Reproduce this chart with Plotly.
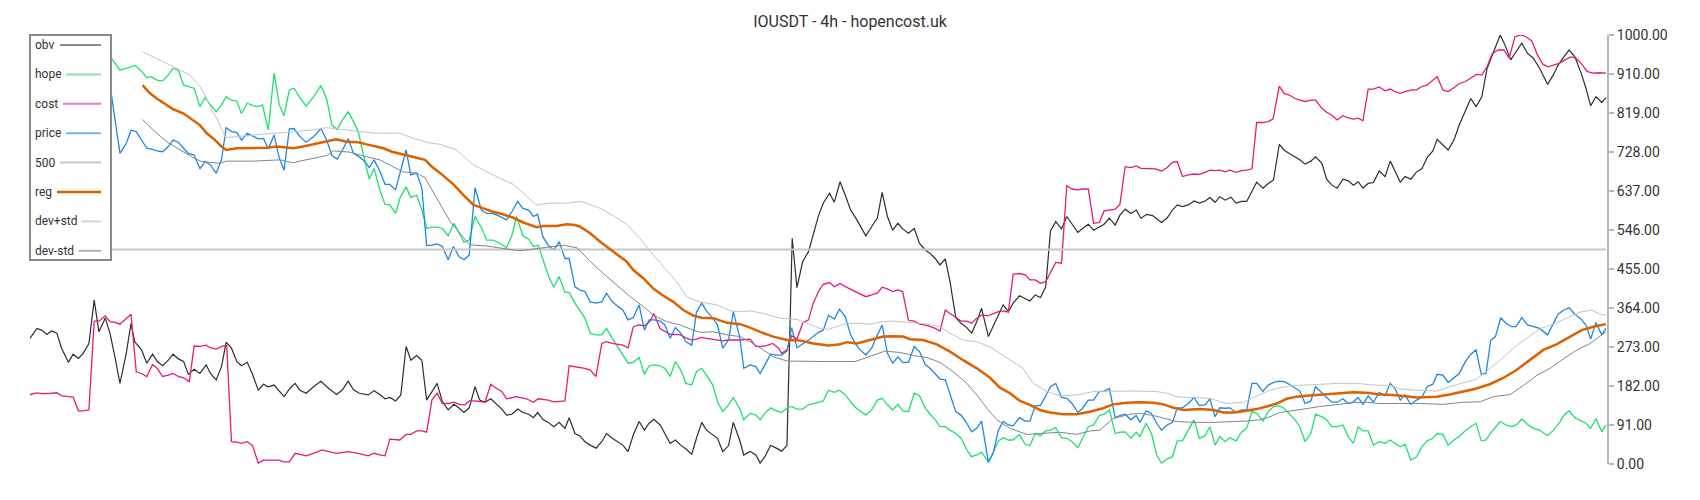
import plotly.graph_objects as go

# (candle, value) pairs; values are on the chart's 0-1000 scale
obv = [
    (0.0, 293), (1.3, 316), (2.2, 312), (3.2, 302), (4.1, 310), (5.1, 305), (6.0, 270), (7.3, 237), (8.2, 256),
    (9.2, 246), (10.1, 258), (11.2, 281), (12.2, 382), (13.1, 308), (14.3, 340), (15.2, 305), (16.2, 246),
    (17.1, 188), (18.3, 258), (19.2, 328), (19.9, 285), (21.2, 266), (22.2, 235), (23.3, 256), (24.2, 239),
    (25.2, 229), (26.3, 242), (27.2, 256), (28.2, 245), (29.2, 239), (30.1, 209), (31.2, 221), (32.3, 211),
    (33.5, 231), (34.3, 211), (35.4, 196), (36.4, 227), (37.3, 284), (38.3, 270), (39.3, 239), (40.2, 229),
    (41.3, 237), (42.3, 209), (43.4, 172), (44.4, 186), (45.3, 180), (46.4, 184), (47.4, 169), (48.3, 157),
    (49.4, 176), (50.4, 188), (51.3, 172), (52.5, 165), (53.9, 180), (55.3, 193), (56.8, 176), (58.3, 162),
    (59.4, 173), (60.5, 193), (61.5, 173), (62.6, 165), (64.3, 161), (65.4, 171), (66.5, 162), (67.5, 152),
    (68.4, 155), (69.5, 147), (70.5, 161), (71.5, 274), (72.4, 242), (73.5, 253), (74.5, 242), (75.4, 149),
    (77.4, 188), (78.4, 145), (79.5, 126), (80.6, 139), (81.6, 130), (82.5, 120), (83.5, 131), (84.6, 180),
    (85.5, 149), (86.5, 144), (87.6, 152), (88.7, 139), (89.7, 128), (90.6, 114), (91.6, 116), (92.7, 128),
    (93.7, 120), (94.8, 116), (95.7, 108), (96.5, 120), (97.6, 103), (98.5, 97), (99.6, 87), (100.6, 97),
    (101.7, 83), (102.5, 108), (103.6, 71), (104.5, 66), (105.5, 52), (106.5, 44), (107.6, 37), (108.7, 52),
    (109.6, 71), (110.7, 60), (111.7, 52), (112.7, 44), (113.7, 29), (114.7, 68), (115.8, 99), (116.8, 79),
    (117.7, 95), (118.6, 104), (119.8, 91), (120.7, 71), (121.7, 48), (122.7, 56), (123.7, 44), (124.7, 35),
    (125.8, 23), (126.7, 60), (127.7, 97), (128.6, 79), (129.8, 69), (130.7, 60), (131.7, 29), (132.8, 43),
    (133.7, 97), (134.9, 56), (135.7, 21), (136.9, 29), (138.0, 21), (138.8, 2), (139.7, 17), (140.8, 43),
    (141.9, 37), (142.9, 30), (143.9, 43), (144.9, 526), (145.8, 411), (146.9, 472), (148.0, 495), (148.9, 534),
    (149.9, 579), (150.8, 608), (152.0, 631), (152.9, 610), (154.0, 658), (155.1, 623), (156.0, 592), (157.0, 573),
    (158.9, 532), (160.0, 553), (161.1, 574), (162.0, 633), (163.0, 577), (164.0, 545), (165.0, 561), (165.9, 548),
    (167.0, 538), (168.1, 549), (169.1, 514), (170.2, 499), (171.1, 491), (172.1, 479), (173.0, 464), (174.0, 478),
    (174.9, 425), (176.0, 341), (177.0, 328), (178.1, 318), (179.0, 305), (180.0, 332), (180.9, 363), (182.2, 297),
    (183.1, 320), (184.1, 347), (185.0, 371), (186.0, 355), (186.9, 375), (188.1, 392), (189.2, 386), (190.1, 380),
    (191.1, 394), (192.1, 388), (193.1, 413), (194.0, 543), (195.0, 565), (196.1, 548), (197.1, 577), (198.1, 559),
    (199.2, 540), (200.1, 549), (201.2, 559), (202.2, 545), (203.3, 553), (204.2, 559), (205.2, 573), (206.3, 557),
    (207.2, 580), (208.2, 594), (209.3, 584), (210.3, 592), (211.2, 573), (212.3, 582), (213.4, 579), (215.1, 563),
    (216.2, 574), (217.2, 592), (218.1, 604), (219.1, 600), (220.2, 604), (221.3, 613), (222.3, 608), (223.4, 613),
    (224.3, 621), (225.3, 610), (226.2, 623), (227.2, 615), (228.3, 622), (229.3, 608), (230.3, 612), (231.3, 612),
    (233.2, 657), (234.4, 643), (235.4, 654), (236.4, 662), (237.5, 745), (238.4, 732), (239.4, 724), (240.5, 716),
    (241.4, 709), (242.4, 699), (243.5, 706), (244.4, 716), (245.6, 701), (246.5, 664), (247.5, 650), (248.5, 643),
    (249.6, 664), (250.6, 660), (251.6, 650), (252.5, 658), (253.4, 643), (254.4, 654), (255.4, 656), (256.5, 683),
    (257.6, 670), (258.6, 706), (259.5, 681), (260.5, 657), (261.4, 670), (262.5, 664), (263.6, 681), (264.6, 688),
    (265.7, 716), (266.7, 730), (267.5, 757), (268.6, 744), (269.6, 732), (270.7, 755), (271.7, 790), (272.8, 821),
    (273.9, 852), (274.9, 833), (276.0, 856), (277.0, 922), (278.0, 955), (279.5, 1000), (280.4, 977), (281.5, 942),
    (282.5, 961), (283.6, 981), (284.7, 957), (285.8, 946), (287.0, 922), (288.5, 885), (289.6, 907), (290.5, 930),
    (291.6, 949), (292.6, 965), (293.7, 949), (295.0, 907), (295.8, 876), (296.7, 835), (297.7, 856), (298.8, 843),
    (299.6, 854),
]

hope = [
    (15.3, 949), (17.1, 918), (18.3, 922), (20.0, 929), (21.0, 918), (22.2, 901), (23.1, 903), (24.1, 895),
    (25.2, 893), (26.3, 907), (27.2, 922), (28.2, 918), (29.2, 883), (30.1, 880), (31.2, 876), (32.3, 833),
    (33.3, 854), (34.3, 837), (35.4, 821), (36.4, 837), (37.3, 856), (38.3, 848), (39.3, 846), (40.2, 817),
    (41.3, 841), (42.5, 835), (43.4, 833), (44.2, 837), (45.3, 779), (46.4, 911), (47.4, 837), (48.3, 812),
    (49.3, 872), (50.2, 876), (51.3, 854), (52.5, 834), (53.9, 856), (55.3, 882), (56.4, 851), (57.4, 790),
    (58.4, 779), (59.4, 802), (60.5, 821), (61.5, 798), (62.4, 775), (63.4, 720), (64.5, 664), (65.4, 689),
    (66.5, 639), (67.5, 605), (68.4, 604), (69.5, 584), (70.3, 619), (71.5, 646), (72.4, 621), (73.5, 627),
    (74.5, 592), (75.4, 549), (76.4, 552), (77.4, 552), (78.4, 549), (79.5, 532), (80.6, 561), (81.6, 538),
    (82.5, 517), (83.5, 522), (84.6, 577), (85.9, 549), (86.8, 522), (87.9, 522), (89.0, 517), (90.6, 504),
    (91.6, 532), (92.5, 577), (93.7, 532), (94.8, 524), (95.7, 507), (96.6, 510), (97.6, 476), (98.6, 437),
    (99.6, 412), (100.6, 437), (101.7, 400), (102.5, 400), (103.6, 375), (104.5, 357), (105.5, 340), (106.5, 305),
    (107.6, 301), (108.7, 301), (109.6, 316), (110.7, 293), (111.7, 274), (112.7, 254), (113.7, 235), (114.7, 237),
    (115.8, 248), (116.8, 209), (117.7, 229), (118.6, 231), (119.8, 229), (120.7, 223), (121.7, 204), (122.7, 239),
    (123.7, 219), (124.7, 188), (125.8, 184), (126.7, 215), (127.7, 223), (128.6, 207), (129.8, 184), (130.7, 145),
    (131.7, 122), (132.8, 138), (133.7, 155), (134.9, 130), (135.7, 103), (136.9, 118), (138.0, 114), (138.8, 103),
    (139.7, 118), (140.8, 131), (141.9, 124), (142.9, 120), (143.9, 130), (144.8, 134), (145.8, 128), (146.9, 128),
    (148.0, 138), (148.9, 141), (149.9, 144), (150.8, 147), (151.8, 172), (152.9, 167), (153.9, 172), (155.0, 161),
    (156.0, 145), (157.0, 131), (158.9, 114), (160.0, 126), (161.1, 149), (162.0, 153), (163.0, 138), (164.0, 126),
    (165.0, 139), (165.9, 124), (167.0, 122), (168.1, 165), (169.1, 159), (170.2, 131), (171.1, 116), (172.1, 103),
    (173.0, 87), (174.0, 87), (174.9, 79), (176.0, 71), (177.0, 60), (178.1, 33), (179.0, 17), (180.0, 21),
    (180.9, 27), (182.2, 5), (183.1, 27), (184.1, 54), (185.0, 61), (186.0, 56), (186.9, 56), (188.1, 69),
    (189.2, 46), (190.1, 43), (191.1, 71), (192.1, 66), (193.1, 77), (194.0, 79), (195.0, 85), (196.1, 61),
    (197.1, 60), (198.1, 52), (199.2, 38), (200.1, 61), (201.2, 87), (202.2, 91), (203.3, 113), (204.2, 116),
    (205.2, 126), (206.3, 71), (207.2, 74), (208.2, 75), (209.3, 60), (210.3, 74), (211.0, 64), (212.2, 95),
    (213.2, 71), (214.2, 21), (215.1, 2), (216.2, 12), (217.2, 17), (218.1, 54), (219.1, 54), (220.2, 79),
    (221.3, 103), (222.3, 60), (223.4, 66), (224.3, 87), (225.3, 44), (226.2, 64), (227.2, 52), (228.1, 61),
    (229.3, 54), (230.3, 74), (231.3, 83), (232.3, 122), (233.2, 118), (234.4, 100), (235.4, 122), (236.4, 134),
    (237.5, 136), (238.4, 130), (239.4, 118), (240.5, 103), (241.4, 87), (242.4, 52), (243.5, 71), (244.4, 116),
    (245.6, 110), (246.5, 103), (247.5, 87), (248.5, 87), (249.6, 91), (250.6, 64), (251.6, 48), (252.5, 87),
    (253.4, 77), (254.4, 77), (255.4, 44), (256.5, 52), (257.6, 48), (258.6, 56), (259.5, 48), (260.5, 40),
    (261.4, 46), (262.5, 9), (263.6, 17), (264.6, 40), (265.6, 54), (266.7, 60), (267.5, 71), (268.6, 69),
    (269.6, 44), (270.7, 56), (271.7, 64), (272.8, 77), (273.9, 87), (274.9, 95), (275.9, 54), (276.8, 56),
    (278.0, 77), (279.5, 99), (280.6, 91), (281.7, 87), (282.6, 91), (283.6, 105), (284.7, 92), (285.8, 83),
    (287.0, 79), (288.5, 66), (289.6, 79), (290.8, 97), (291.6, 113), (292.6, 124), (293.7, 108), (295.0, 100),
    (295.8, 95), (296.7, 83), (297.7, 106), (298.8, 75), (299.6, 91),
]

cost = [
    (0.0, 162), (1.3, 166), (2.2, 164), (3.2, 164), (5.1, 166), (6.0, 159), (7.3, 157), (8.2, 156), (9.2, 124),
    (10.1, 124), (11.2, 126), (12.2, 333), (13.1, 333), (14.3, 345), (15.2, 332), (16.2, 330), (17.1, 326),
    (18.3, 340), (19.2, 349), (20.2, 215), (21.2, 211), (22.2, 204), (23.3, 232), (24.2, 223), (25.2, 204),
    (26.3, 207), (27.2, 211), (28.2, 204), (29.2, 201), (30.3, 192), (31.2, 275), (32.3, 274), (33.5, 277),
    (34.3, 271), (35.4, 268), (36.4, 274), (37.4, 276), (38.3, 52), (39.3, 51), (40.2, 48), (41.3, 52),
    (42.3, 43), (43.4, 2), (44.4, 9), (46.3, 9), (47.4, 9), (48.2, 5), (49.3, 5), (50.4, 25), (51.3, 23),
    (52.5, 19), (53.9, 25), (55.5, 33), (56.8, 29), (58.3, 25), (60.5, 29), (62.4, 25), (64.3, 19), (65.4, 25),
    (66.5, 21), (67.5, 19), (68.4, 58), (70.3, 56), (71.5, 69), (72.4, 69), (73.5, 77), (74.5, 77), (75.4, 74),
    (76.4, 149), (77.4, 165), (78.4, 141), (79.5, 141), (80.6, 144), (81.6, 139), (82.7, 138), (83.5, 147),
    (84.6, 147), (86.5, 144), (87.6, 186), (88.7, 176), (89.7, 169), (90.6, 152), (92.5, 157), (94.4, 152),
    (95.7, 144), (96.6, 152), (98.5, 149), (99.6, 145), (101.7, 147), (102.5, 229), (103.6, 227), (104.6, 225),
    (105.5, 223), (106.5, 219), (107.6, 204), (108.7, 281), (109.6, 285), (110.7, 281), (111.7, 279), (112.7, 277),
    (113.7, 271), (114.7, 320), (115.8, 324), (116.8, 322), (117.9, 333), (118.6, 351), (119.8, 315), (120.7, 308),
    (121.7, 302), (122.7, 302), (123.7, 301), (124.7, 294), (125.8, 289), (126.7, 291), (127.7, 295), (128.6, 293),
    (129.8, 291), (130.7, 289), (131.7, 287), (132.8, 289), (134.9, 289), (136.9, 291), (138.0, 274), (139.1, 274),
    (140.0, 276), (141.2, 281), (142.3, 270), (142.9, 258), (143.9, 266), (144.8, 299), (145.8, 291), (146.9, 328),
    (148.0, 336), (148.9, 375), (149.9, 402), (150.8, 419), (152.0, 423), (152.9, 413), (154.0, 421), (155.1, 413),
    (156.0, 408), (157.0, 402), (158.9, 390), (160.0, 394), (161.1, 399), (162.0, 412), (163.0, 408), (164.0, 402),
    (165.0, 406), (165.9, 402), (167.0, 335), (168.1, 333), (169.1, 326), (170.2, 324), (171.1, 320), (172.1, 316),
    (173.0, 310), (174.0, 359), (174.9, 351), (176.0, 341), (177.0, 333), (178.1, 333), (179.0, 328), (180.0, 340),
    (180.9, 347), (182.2, 346), (183.1, 351), (184.1, 355), (185.0, 357), (186.0, 354), (186.9, 442), (188.1, 444),
    (189.2, 441), (190.1, 429), (191.1, 429), (192.1, 421), (193.1, 425), (194.0, 448), (195.0, 470), (196.1, 468),
    (197.1, 649), (198.1, 641), (199.2, 639), (200.1, 641), (201.2, 641), (202.2, 561), (203.3, 563), (204.2, 590),
    (205.2, 592), (206.3, 594), (207.2, 605), (208.2, 693), (209.3, 691), (210.3, 695), (211.2, 689), (212.3, 689),
    (213.9, 688), (215.1, 683), (216.2, 691), (217.2, 703), (218.1, 705), (219.1, 670), (220.2, 674), (221.3, 676),
    (222.3, 675), (223.4, 680), (224.3, 685), (225.3, 684), (226.2, 685), (227.2, 681), (228.1, 685), (229.3, 680),
    (230.3, 684), (231.3, 685), (232.3, 688), (233.2, 796), (234.4, 796), (235.4, 798), (236.3, 804), (237.5, 881),
    (238.4, 864), (239.4, 860), (240.5, 852), (241.4, 848), (242.4, 845), (243.5, 848), (244.4, 848), (245.6, 829),
    (246.5, 820), (247.5, 813), (248.5, 802), (249.6, 812), (250.6, 807), (251.6, 804), (252.5, 806), (253.4, 800),
    (254.4, 874), (255.4, 874), (256.5, 879), (257.6, 870), (258.6, 874), (259.5, 868), (260.5, 864), (261.4, 868),
    (262.7, 872), (263.6, 872), (264.6, 880), (265.6, 883), (266.7, 895), (267.5, 903), (268.6, 872), (269.6, 868),
    (270.7, 877), (271.7, 887), (272.8, 891), (273.9, 899), (275.0, 908), (276.0, 907), (277.0, 926), (278.0, 957),
    (279.1, 965), (280.2, 965), (281.2, 946), (282.3, 996), (283.4, 1000), (284.4, 996), (285.5, 986), (286.6, 953),
    (287.6, 932), (288.6, 926), (289.7, 930), (290.7, 934), (291.8, 942), (292.9, 949), (293.9, 946), (295.0, 932),
    (296.0, 915), (297.1, 911), (298.2, 912), (299.6, 911),
]

price = [
    (15.3, 876), (17.1, 724), (18.3, 747), (19.2, 778), (20.2, 775), (21.2, 755), (22.2, 736), (23.1, 734),
    (24.1, 730), (25.2, 728), (26.3, 740), (27.2, 755), (28.2, 750), (29.2, 736), (30.1, 724), (31.2, 720),
    (32.3, 688), (33.3, 705), (34.3, 697), (35.4, 678), (36.4, 709), (37.3, 784), (38.3, 775), (39.3, 773),
    (40.2, 755), (41.3, 771), (42.5, 763), (43.4, 758), (44.4, 759), (45.3, 734), (46.4, 767), (47.4, 713),
    (48.3, 685), (49.3, 781), (50.2, 782), (51.3, 763), (52.5, 750), (53.9, 763), (55.3, 782), (56.4, 755),
    (57.4, 719), (58.4, 711), (59.4, 732), (60.5, 758), (61.5, 724), (62.6, 716), (63.6, 706), (64.5, 691),
    (65.4, 709), (66.5, 683), (67.5, 652), (68.4, 652), (69.5, 639), (71.5, 732), (72.4, 674), (73.5, 678),
    (74.5, 643), (75.4, 509), (76.4, 510), (77.4, 513), (78.4, 507), (79.5, 476), (80.5, 507), (81.6, 483),
    (82.5, 476), (83.5, 487), (84.6, 644), (85.8, 592), (86.8, 584), (87.9, 584), (89.0, 579), (90.6, 569),
    (91.6, 588), (92.7, 612), (93.7, 596), (94.8, 592), (95.7, 577), (96.5, 582), (97.5, 530), (98.5, 510),
    (99.6, 499), (100.6, 518), (101.7, 479), (102.5, 479), (103.6, 413), (104.5, 406), (105.5, 402), (106.5, 378),
    (107.6, 375), (108.7, 378), (109.6, 398), (110.7, 378), (111.7, 368), (112.7, 359), (113.7, 336), (114.7, 341),
    (115.8, 371), (116.8, 312), (117.7, 336), (118.6, 336), (119.8, 333), (120.7, 324), (121.7, 293), (122.7, 318),
    (123.7, 305), (124.7, 285), (125.8, 277), (126.7, 354), (127.7, 375), (128.6, 357), (129.8, 340), (130.7, 324),
    (131.7, 270), (132.8, 289), (133.7, 355), (134.9, 297), (135.7, 223), (136.9, 231), (138.0, 227), (138.8, 211),
    (139.7, 231), (140.8, 256), (141.9, 254), (142.9, 254), (143.9, 263), (144.8, 318), (145.8, 271), (146.9, 281),
    (148.0, 289), (148.9, 297), (149.9, 307), (150.8, 312), (151.8, 347), (152.9, 338), (153.9, 361), (155.0, 343),
    (156.0, 301), (157.0, 279), (157.8, 266), (158.9, 254), (160.0, 270), (161.1, 301), (162.0, 324), (163.0, 258),
    (164.0, 235), (165.0, 250), (165.9, 237), (167.0, 237), (168.1, 274), (169.1, 262), (170.2, 232), (171.1, 223),
    (172.1, 211), (173.0, 198), (174.0, 196), (174.9, 165), (176.0, 122), (177.0, 114), (178.1, 95), (179.0, 75),
    (180.0, 83), (180.9, 100), (182.2, 4), (183.1, 25), (184.1, 79), (185.0, 99), (186.0, 91), (186.9, 89),
    (188.1, 108), (189.2, 100), (190.1, 100), (191.1, 136), (192.1, 136), (193.1, 159), (194.0, 180), (195.0, 188),
    (196.1, 155), (197.1, 153), (198.1, 141), (199.2, 120), (200.1, 130), (201.2, 149), (202.2, 149), (203.3, 169),
    (204.2, 170), (205.2, 176), (206.3, 108), (207.2, 113), (208.2, 116), (209.3, 103), (210.3, 113), (211.0, 97),
    (212.2, 124), (213.2, 118), (214.2, 95), (215.1, 79), (216.2, 91), (217.2, 97), (218.1, 131), (219.1, 131),
    (220.2, 141), (221.3, 155), (222.3, 136), (223.4, 138), (224.3, 152), (225.3, 110), (226.2, 131), (227.2, 130),
    (228.1, 131), (229.3, 120), (230.3, 126), (231.3, 126), (232.3, 188), (233.2, 188), (234.4, 169), (235.4, 184),
    (236.4, 190), (237.5, 193), (238.4, 192), (239.4, 186), (240.5, 178), (241.4, 170), (242.4, 141), (243.5, 147),
    (244.4, 180), (245.6, 165), (246.5, 155), (247.5, 144), (248.5, 144), (249.6, 152), (250.6, 141), (251.6, 145),
    (252.5, 155), (253.4, 139), (254.4, 159), (255.4, 144), (256.5, 167), (257.6, 159), (258.6, 188), (259.5, 176),
    (260.5, 149), (261.4, 161), (262.5, 139), (263.6, 149), (264.6, 155), (265.6, 180), (266.7, 186), (267.5, 209),
    (268.6, 207), (269.6, 190), (270.7, 200), (271.7, 211), (272.8, 237), (273.9, 256), (274.9, 266), (275.9, 209),
    (276.8, 211), (277.7, 289), (278.6, 297), (279.6, 341), (280.6, 328), (281.7, 320), (282.5, 320), (283.6, 341),
    (284.7, 324), (285.8, 320), (287.0, 316), (288.5, 301), (289.6, 328), (290.5, 349), (291.6, 359), (292.6, 364),
    (293.7, 349), (295.0, 336), (295.8, 324), (296.7, 291), (297.7, 330), (298.8, 301), (299.6, 316),
]

level_500 = [(0.0, 500), (299.6, 500)]

reg = [
    (21.4, 883), (22.8, 864), (24.1, 852), (25.3, 843), (27.1, 828), (29.2, 817), (30.4, 807), (32.3, 790),
    (33.6, 771), (35.2, 755), (36.4, 740), (37.3, 732), (39.3, 736), (42.5, 736), (45.0, 737), (46.9, 740),
    (48.8, 737), (50.1, 736), (52.6, 742), (54.5, 747), (56.4, 753), (58.2, 757), (60.2, 751), (62.4, 750),
    (64.0, 745), (65.9, 740), (67.2, 736), (68.8, 728), (70.3, 724), (72.2, 719), (73.5, 714), (75.1, 709),
    (76.4, 693), (78.0, 678), (80.5, 652), (82.4, 627), (84.3, 604), (86.2, 596), (88.0, 588), (89.9, 582),
    (91.9, 574), (93.8, 563), (96.3, 552), (97.6, 555), (100.1, 555), (102.0, 559), (103.6, 557), (104.6, 553),
    (106.5, 538), (108.4, 518), (110.9, 495), (113.4, 472), (114.7, 452), (116.6, 433), (118.5, 409), (120.4, 392),
    (122.3, 378), (124.2, 359), (126.1, 346), (127.7, 341), (129.9, 340), (132.5, 329), (135.0, 326), (136.9, 318),
    (138.8, 308), (141.3, 297), (143.9, 289), (146.4, 288), (148.9, 281), (151.8, 276), (154.0, 279), (155.3, 284),
    (157.2, 281), (159.7, 289), (162.2, 297), (164.1, 298), (166.0, 297), (167.3, 291), (169.8, 289), (172.4, 279),
    (174.9, 262), (177.4, 242), (180.0, 223), (182.5, 201), (184.4, 178), (186.3, 165), (188.2, 147), (190.1, 138),
    (192.0, 126), (193.9, 120), (196.4, 116), (199.0, 116), (201.5, 122), (204.0, 130), (205.9, 139), (208.5, 143),
    (211.0, 144), (213.6, 143), (215.5, 139), (217.4, 131), (219.3, 126), (222.4, 128), (225.0, 126), (226.9, 120),
    (228.8, 120), (231.3, 124), (233.2, 128), (235.1, 134), (237.0, 141), (238.9, 152), (240.8, 157), (242.7, 159),
    (245.2, 162), (249.0, 165), (251.6, 167), (254.1, 166), (256.6, 162), (259.2, 161), (261.5, 158), (263.6, 155),
    (267.4, 157), (269.9, 162), (272.5, 169), (275.0, 176), (277.5, 186), (280.0, 200), (282.6, 219), (285.2, 242),
    (287.7, 266), (290.2, 279), (292.7, 297), (295.0, 312), (297.2, 320), (299.6, 326),
]

dev_plus_std = [
    (21.4, 961), (23.4, 949), (26.0, 934), (28.5, 918), (30.4, 907), (32.3, 880), (33.6, 852), (34.5, 825),
    (35.5, 806), (36.4, 782), (37.1, 761), (39.3, 763), (42.5, 767), (46.3, 771), (48.8, 773), (51.3, 776),
    (53.9, 779), (56.4, 784), (59.6, 779), (62.8, 775), (65.9, 771), (70.3, 771), (72.9, 759), (75.4, 750),
    (77.9, 745), (81.1, 732), (84.3, 697), (86.8, 681), (89.3, 666), (91.9, 652), (93.8, 631), (96.3, 604),
    (98.8, 608), (102.0, 608), (104.6, 612), (105.8, 608), (108.4, 596), (110.9, 579), (113.4, 559), (115.9, 526),
    (118.5, 487), (121.0, 452), (122.9, 425), (124.8, 390), (126.7, 380), (128.6, 375), (130.6, 371), (133.1, 357),
    (135.0, 355), (136.9, 357), (139.4, 351), (142.6, 340), (145.8, 337), (147.7, 328), (150.2, 316), (151.8, 314),
    (155.3, 328), (157.2, 328), (159.7, 326), (162.2, 332), (164.1, 333), (167.3, 330), (170.5, 326), (173.0, 320),
    (174.9, 305), (177.4, 289), (180.0, 285), (182.5, 273), (184.4, 258), (186.3, 242), (188.8, 223), (190.7, 188),
    (193.3, 169), (195.8, 159), (199.0, 161), (202.2, 169), (205.3, 170), (208.5, 170), (211.0, 170), (214.2, 169),
    (216.1, 165), (218.0, 157), (219.9, 155), (221.8, 155), (224.3, 153), (227.5, 141), (230.7, 144), (232.6, 155),
    (235.1, 169), (237.6, 178), (240.2, 183), (242.7, 184), (245.9, 186), (249.0, 188), (252.2, 188), (255.4, 184),
    (258.6, 183), (260.5, 175), (263.6, 172), (267.4, 170), (269.9, 180), (272.5, 190), (275.0, 198), (277.2, 219),
    (279.5, 242), (282.0, 270), (284.5, 293), (287.0, 315), (289.6, 326), (292.1, 340), (294.7, 354), (296.9, 359),
    (298.5, 349), (299.6, 347),
]

dev_minus_std = [
    (21.4, 803), (23.4, 779), (26.0, 751), (28.5, 732), (31.0, 714), (32.6, 705), (36.1, 701), (37.4, 706),
    (42.5, 706), (47.5, 709), (50.1, 702), (51.3, 706), (53.9, 712), (56.4, 719), (57.7, 730), (60.8, 727),
    (64.0, 716), (66.5, 709), (69.0, 693), (70.9, 681), (73.5, 678), (75.1, 667), (76.4, 639), (78.0, 604),
    (79.9, 565), (81.7, 538), (83.6, 511), (86.8, 508), (90.6, 501), (93.1, 497), (96.9, 503), (101.4, 510),
    (104.0, 504), (106.5, 472), (109.0, 444), (111.5, 417), (114.1, 390), (116.6, 367), (118.5, 347), (121.0, 332),
    (123.6, 324), (126.1, 312), (127.4, 307), (129.9, 308), (132.5, 301), (135.0, 297), (136.9, 285), (139.4, 266),
    (141.3, 250), (143.9, 240), (146.4, 239), (150.2, 239), (156.9, 239), (160.3, 254), (162.5, 263), (165.4, 260),
    (167.9, 253), (170.5, 248), (173.0, 237), (175.5, 215), (178.1, 188), (180.0, 161), (181.9, 130), (183.8, 103),
    (186.3, 83), (189.5, 69), (193.3, 71), (195.8, 74), (199.0, 69), (201.5, 77), (203.4, 79), (205.9, 106),
    (209.1, 116), (211.0, 118), (213.6, 113), (216.1, 105), (218.0, 99), (221.2, 97), (225.0, 97), (228.8, 99),
    (231.3, 100), (233.8, 103), (235.7, 110), (237.6, 120), (239.5, 124), (242.1, 128), (245.2, 134), (248.4, 139),
    (251.6, 143), (254.1, 144), (256.6, 141), (260.4, 141), (264.3, 141), (268.7, 139), (272.5, 144), (275.7, 145),
    (278.2, 157), (281.4, 162), (283.9, 183), (286.5, 207), (289.0, 223), (291.6, 246), (294.1, 266), (296.6, 281),
    (298.5, 297), (299.6, 308),
]

tick_values = [0, 91, 182, 273, 364, 455, 546, 637, 728, 819, 910, 1000]

# name, data, line colour, line width, legend swatch colour
series = [
    ("obv", obv, "#2e2e2e", 1.2, "#8c8c8c"),
    ("hope", hope, "#1fe070", 1.3, "#80e8a9"),
    ("cost", cost, "#e8197a", 1.3, "#eb7bb8"),
    ("price", price, "#1e88e5", 1.3, "#72b5ee"),
    ("500", level_500, "#c6c6c6", 2, "#c6c6c6"),
    ("reg", reg, "#dc6100", 2.5, "#d86200"),
    ("dev+std", dev_plus_std, "#bfc5cb", 1, "#d3d7db"),
    ("dev-std", dev_minus_std, "#7b8791", 1, "#aab3ba"),
]

# the page body adds an 8px margin, so the figure is shrunk by that much
# and every placement below is given in page pixels
BODY = 8
WIDTH, HEIGHT = 1700 - BODY, 500 - BODY
LEFT, RIGHT, TOP, BOTTOM = 30, 1607, 35, 464


def paper_x(px):
    return (px - LEFT) / (RIGHT - LEFT)


def paper_y(py):
    return (BOTTOM - py) / (BOTTOM - TOP)


fig = go.Figure()
for name, data, color, width, _ in series:
    xs = [p[0] for p in data]
    ys = [p[1] for p in data]
    fig.add_trace(
        go.Scatter(
            x=xs,
            y=ys,
            mode="lines",
            name=name,
            line={"color": color, "width": width},
            showlegend=False,
            hoverinfo="skip",
        )
    )

# hand-drawn legend: label on the left, line swatch on the right
shapes = [
    {
        "type": "rect",
        "xref": "paper",
        "yref": "paper",
        "x0": paper_x(30),
        "x1": paper_x(111),
        "y0": paper_y(260),
        "y1": paper_y(35),
        "line": {"color": "#8a8a8a", "width": 2},
        "fillcolor": "white",
        "layer": "above",
    }
]
annotations = []
swatch_starts = [60, 66, 63, 66, 60, 57, 81, 79]
for i, (name, _, _, width, legend_color) in enumerate(series):
    row_y = 45 + 29.4 * i
    annotations.append(
        {
            "xref": "paper",
            "yref": "paper",
            "x": paper_x(33),
            "y": paper_y(row_y),
            "xanchor": "left",
            "yanchor": "middle",
            "text": name,
            "showarrow": False,
            "font": {"family": "Roboto", "size": 12, "color": "#333333"},
        }
    )
    shapes.append(
        {
            "type": "line",
            "xref": "paper",
            "yref": "paper",
            "x0": paper_x(swatch_starts[i]),
            "x1": paper_x(101),
            "y0": paper_y(row_y),
            "y1": paper_y(row_y),
            "line": {"color": legend_color, "width": 2.5 if name == "reg" else 2},
            "layer": "above",
        }
    )

fig.update_layout(
    width=WIDTH,
    height=HEIGHT,
    margin={
        "l": LEFT - BODY,
        "r": 1700 - RIGHT,
        "t": TOP - BODY,
        "b": 500 - BOTTOM,
        "autoexpand": False,
    },
    paper_bgcolor="white",
    plot_bgcolor="white",
    title={
        "text": "IOUSDT - 4h - hopencost.uk",
        "x": 0.5 - BODY / 2 / WIDTH,
        "xref": "container",
        "xanchor": "center",
        "y": 1 - 13 / HEIGHT,
        "yref": "container",
        "yanchor": "middle",
        "font": {"family": "Roboto", "size": 16, "color": "#333333"},
    },
    xaxis={"visible": False, "range": [0, 299.8]},
    yaxis={
        "side": "right",
        "range": [0, 1000],
        "tickvals": tick_values,
        "ticktext": [f"{v:.2f}" for v in tick_values],
        "ticks": "outside",
        "ticklen": 5,
        "tickwidth": 1.5,
        "tickcolor": "#b0b9c1",
        "showline": True,
        "linecolor": "#b0b9c1",
        "linewidth": 2,
        "showgrid": False,
        "zeroline": False,
        "tickfont": {"family": "Roboto", "size": 14, "color": "#333333"},
    },
    shapes=shapes,
    annotations=annotations,
    showlegend=False,
)

fig.write_html("out.html")
